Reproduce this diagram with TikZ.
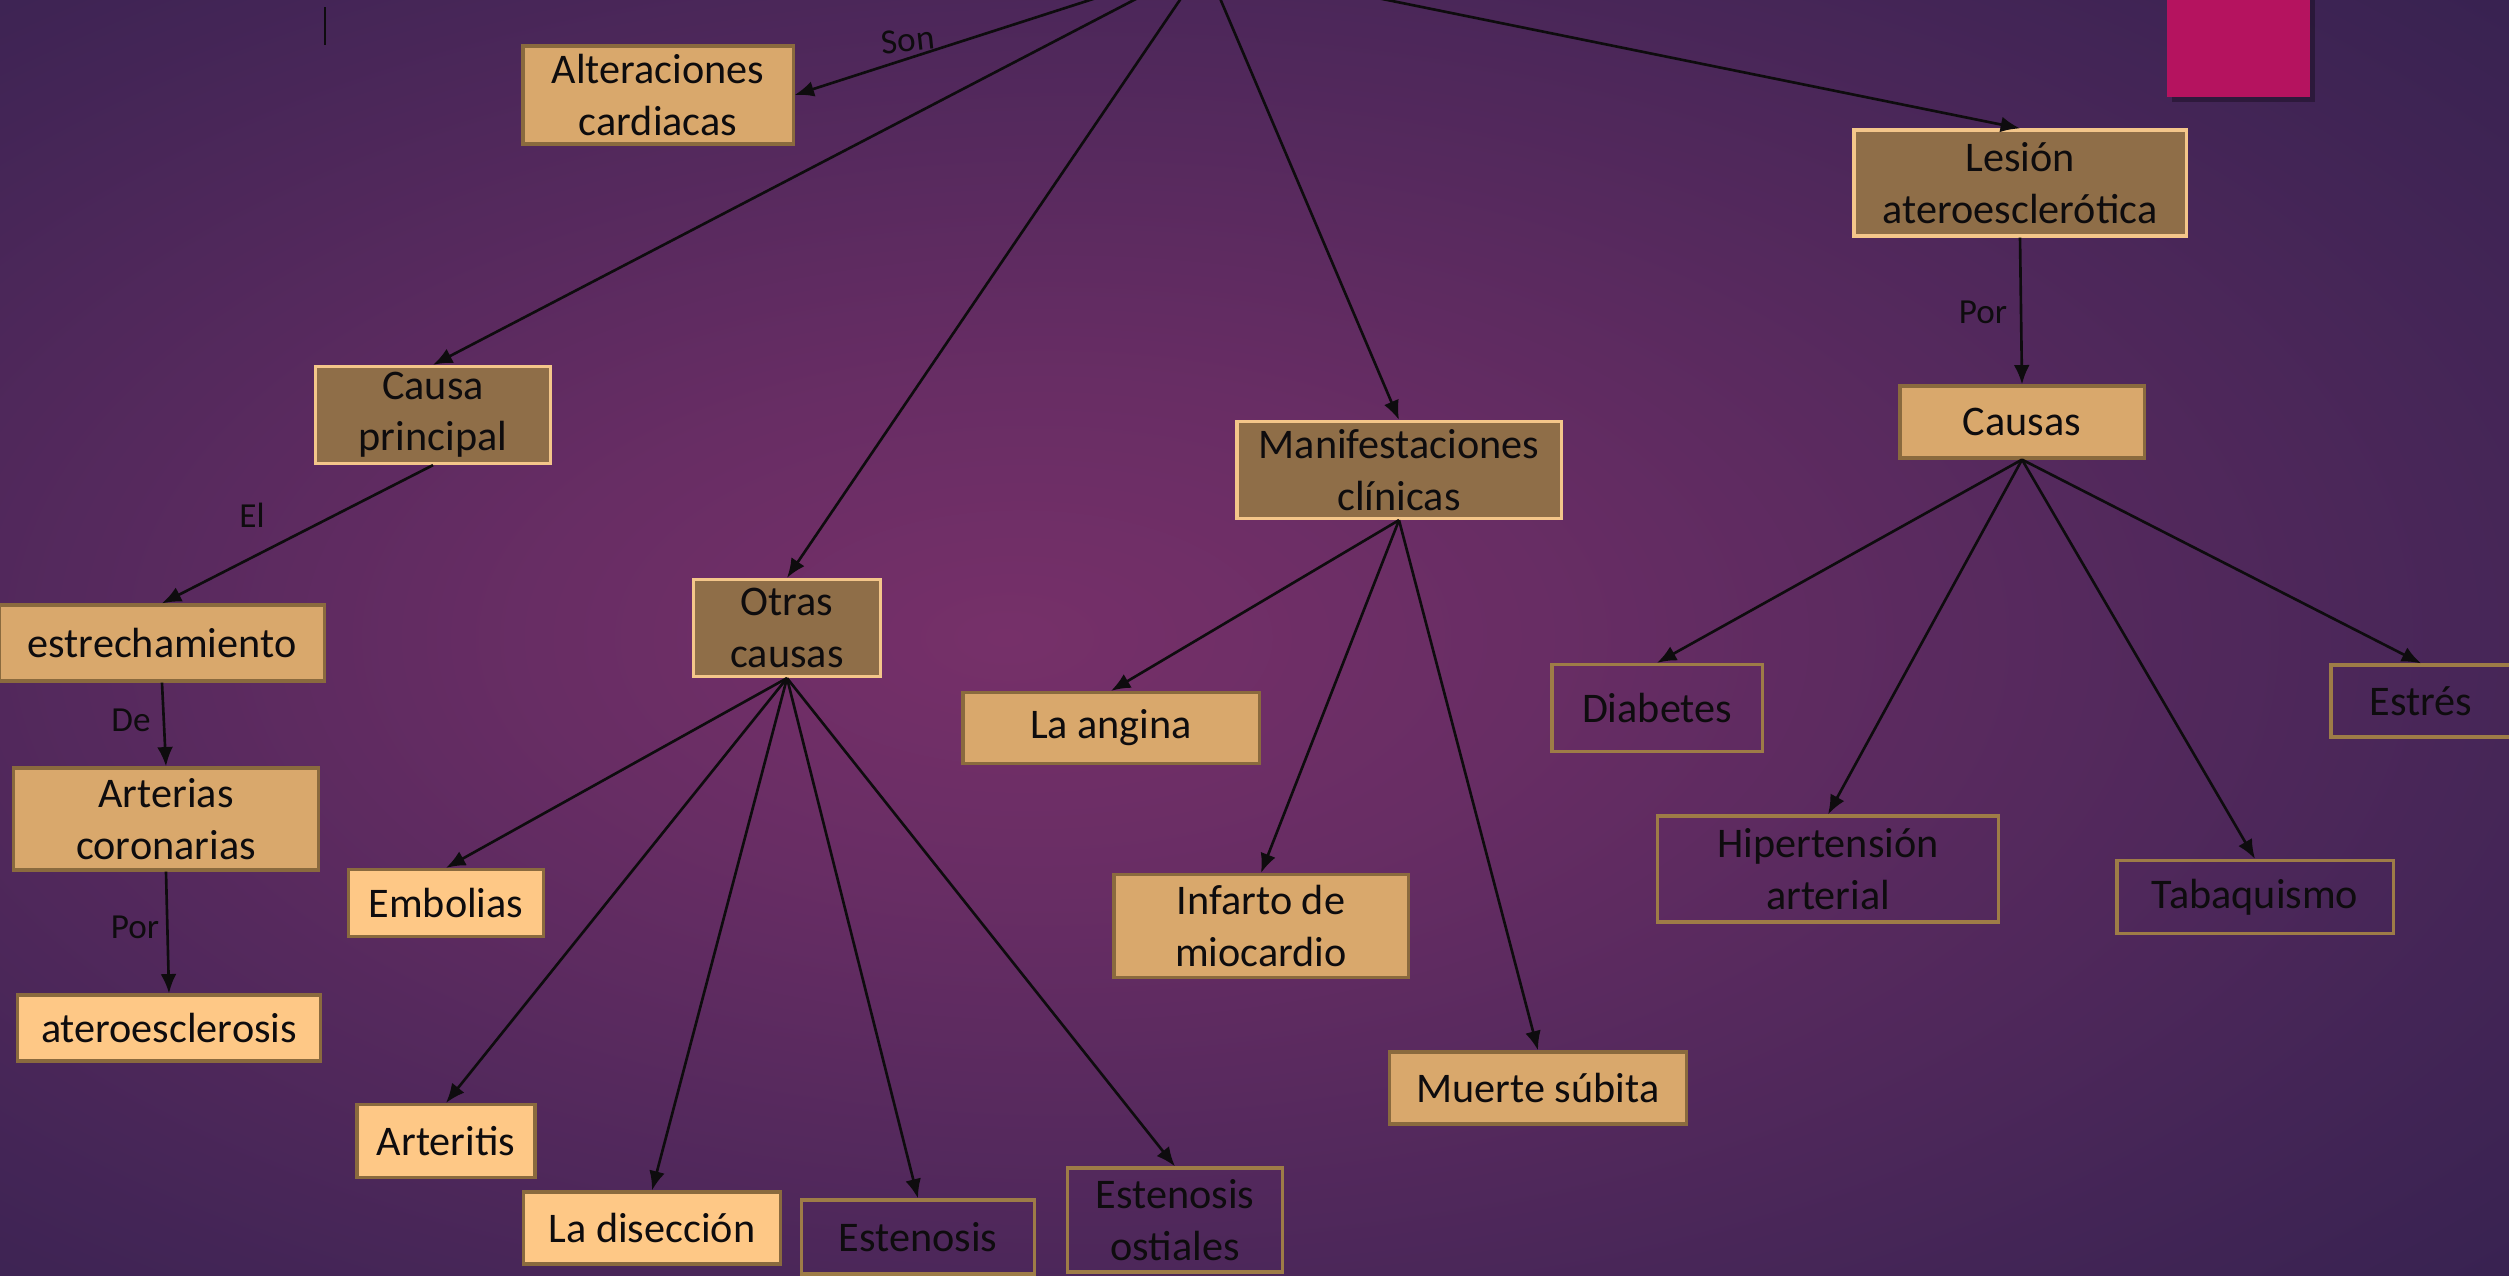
\documentclass[tikz,border=0pt]{standalone}
\usepackage{fontspec}
\setmainfont{Carlito}
\usetikzlibrary{arrows.meta}
\definecolor{tanclaro}{HTML}{D9A86C}
\definecolor{tanbrillo}{HTML}{FEC886}
\definecolor{marron}{HTML}{8F6E48}
\definecolor{bordeclaro}{HTML}{F4C68A}
\definecolor{bordeosc}{HTML}{8A6A3E}
\definecolor{bordevacio}{HTML}{9E7C47}
\definecolor{rosa}{HTML}{B5135F}
\definecolor{texto}{HTML}{0E0C0E}
\definecolor{fondoA}{HTML}{763069}
\definecolor{fondoB}{HTML}{682D64}
\definecolor{fondoC}{HTML}{55295D}
\definecolor{fondoD}{HTML}{432556}
\definecolor{fondoE}{HTML}{34214F}
\definecolor{fondoF}{HTML}{291D48}
\definecolor{fondoG}{HTML}{1F1940}
\pgfdeclareradialshading{fondo}{\pgfpoint{-5bp}{0bp}}{color(0bp)=(fondoA); color(10bp)=(fondoB); color(20bp)=(fondoC); color(30bp)=(fondoD); color(40bp)=(fondoE); color(50bp)=(fondoF); color(72bp)=(fondoG)}

\begin{document}
\begin{tikzpicture}[x=0.01cm, y=-0.01cm, >={Latex[length=5.5pt,width=4.5pt]},
	caja/.style={rectangle, inner sep=0pt, align=center, text=texto, font=\fontsize{12}{14.6}\selectfont, line width=0.9pt},
	cajaclara/.style={caja, fill=tanclaro, draw=bordeosc},
	cajabrillo/.style={caja, fill=tanbrillo, draw=bordeosc},
	cajaoscura/.style={caja, fill=marron, draw=bordeclaro},
	cajavacia/.style={caja, draw=bordevacio},
	etiqueta/.style={inner sep=0pt, text=texto, font=\fontsize{10}{12}\selectfont},
	flecha/.style={->, line width=0.75pt, color=texto}]
	\useasboundingbox (0,0) rectangle (2509,1275);
	\clip (0,0) rectangle (2509,1275);

	% Background and the pink square
	\shade[shading=fondo] (0,0) rectangle (2509,1275);
	\fill[black, opacity=0.3] (2172,0) rectangle (2315,102);
	\fill[rosa] (2167,0) rectangle (2310,97);
	\draw[line width=0.7pt, color=texto] (325,7) -- (325,45);

	% Root of the map, above the page
	\coordinate (raiz) at (1205,-37);

	% Left branch
	\node[cajaclara, minimum width=2.70cm, minimum height=0.98cm] (alt) at (658,95) {Alteraciones\\cardiacas};
	\node[cajaoscura, minimum width=2.35cm, minimum height=0.97cm] (causa) at (433,415) {Causa\\principal};
	\node[cajaclara, minimum width=3.24cm, minimum height=0.76cm] (estrech) at (162,643) {estrechamiento};
	\node[cajaclara, minimum width=3.04cm, minimum height=1.02cm] (arterias) at (166,819) {Arterias\\coronarias};
	\node[cajabrillo, minimum width=3.02cm, minimum height=0.66cm] (atero) at (169,1028) {ateroesclerosis};

	% Other causes
	\node[cajaoscura, minimum width=1.87cm, minimum height=0.97cm] (otras) at (787,628) {Otras\\causas};
	\node[cajabrillo, minimum width=1.95cm, minimum height=0.67cm] (embolias) at (446,903) {Embolias};
	\node[cajabrillo, minimum width=1.78cm, minimum height=0.73cm] (arteritis) at (446,1141) {Arteritis};
	\node[cajabrillo, minimum width=2.57cm, minimum height=0.72cm] (diseccion) at (652,1228) {La disección};
	\node[cajavacia, minimum width=2.33cm, minimum height=0.74cm] (estenosis) at (918,1237) {Estenosis};
	\node[cajavacia, minimum width=2.15cm, minimum height=1.04cm] (ostiales) at (1175,1220) {Estenosis\\ostiales};

	% Clinical signs
	\node[cajaoscura, minimum width=3.24cm, minimum height=0.97cm] (manif) at (1399,470) {Manifestaciones\\clínicas};
	\node[cajaclara, minimum width=2.96cm, minimum height=0.71cm] (angina) at (1111,728) {La angina};
	\node[cajaclara, minimum width=2.94cm, minimum height=1.03cm] (infarto) at (1261,926) {Infarto de\\miocardio};
	\node[cajaclara, minimum width=2.97cm, minimum height=0.72cm] (muerte) at (1538,1088) {Muerte súbita};

	% Right branch
	\node[cajaoscura, minimum width=3.32cm, minimum height=1.06cm] (lesion) at (2020,183) {Lesión\\ateroesclerótica};
	\node[cajaclara, minimum width=2.44cm, minimum height=0.72cm] (causas) at (2022,422) {Causas};
	\node[cajavacia, minimum width=2.10cm, minimum height=0.87cm] (diabetes) at (1657,708) {Diabetes};
	\node[cajavacia, minimum width=3.41cm, minimum height=1.06cm] (hipert) at (1828,869) {Hipertensión\\arterial};
	\node[cajavacia, minimum width=2.76cm, minimum height=0.73cm] (tabaco) at (2255,897) {Tabaquismo};
	\node[cajavacia, minimum width=1.80cm, minimum height=0.72cm] (estres) at (2421,701) {Estrés};

	% Link words
	\node[etiqueta, rotate=6] (son) at (908,40) {Son};
	\node[etiqueta] (el) at (252,515) {El};
	\node[etiqueta] (de) at (131,720) {De};
	\node[etiqueta] (por1) at (135,927) {Por};
	\node[etiqueta] (por2) at (1983,312) {Por};

	% Arrows
	\draw[flecha] (raiz) -- (alt.east);
	\draw[flecha] (raiz) -- (causa.north);
	\draw[flecha] (raiz) -- (otras.north);
	\draw[flecha] (raiz) -- (manif.north);
	\draw[flecha] (raiz) -- (lesion.north);
	\draw[flecha] (causa.south) -- (estrech.north);
	\draw[flecha] (estrech.south) -- (arterias.north);
	\draw[flecha] (arterias.south) -- (atero.north);
	\draw[flecha] (otras.south) -- (embolias.north);
	\draw[flecha] (otras.south) -- (arteritis.north);
	\draw[flecha] (otras.south) -- (diseccion.north);
	\draw[flecha] (otras.south) -- (estenosis.north);
	\draw[flecha] (otras.south) -- (ostiales.north);
	\draw[flecha] (manif.south) -- (angina.north);
	\draw[flecha] (manif.south) -- (infarto.north);
	\draw[flecha] (manif.south) -- (muerte.north);
	\draw[flecha] (lesion.south) -- (causas.north);
	\draw[flecha] (causas.south) -- (diabetes.north);
	\draw[flecha] (causas.south) -- (hipert.north);
	\draw[flecha] (causas.south) -- (tabaco.north);
	\draw[flecha] (causas.south) -- (estres.north);
\end{tikzpicture}
\end{document}
